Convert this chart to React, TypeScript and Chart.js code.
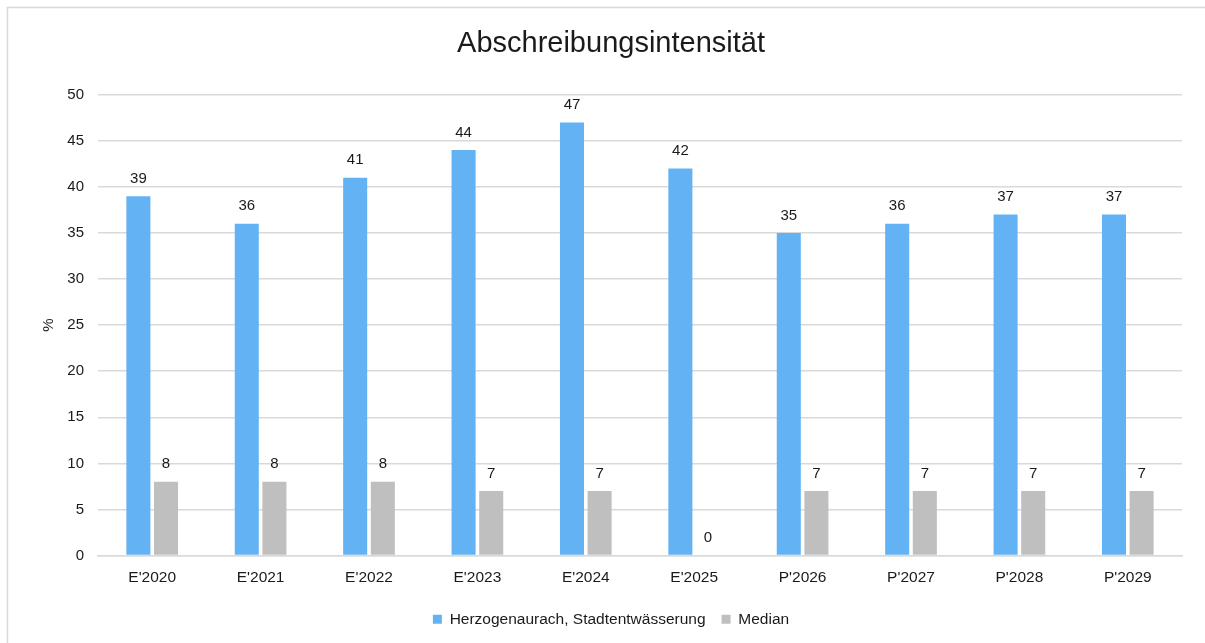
import React, { useEffect, useRef } from "react";
import { Chart, registerables } from "chart.js";

Chart.register(...registerables);

const categories = ["E'2020", "E'2021", "E'2022", "E'2023", "E'2024", "E'2025", "P'2026", "P'2027", "P'2028", "P'2029"];
const herzogenaurach = [39, 36, 41, 44, 47, 42, 35, 36, 37, 37];
const median = [8, 8, 8, 7, 7, 0, 7, 7, 7, 7];
const seriesNames = ["Herzogenaurach, Stadtentwässerung", "Median"];
const chartTitle = "Abschreibungsintensität";
const yTitle = "%";

const FONT = "'Liberation Sans', Arial, sans-serif";
const TEXT = "#1a1a1a";

const framePlugin = {
  id: "frame",
  beforeDraw(chart: any) {
    const ctx = chart.ctx;
    ctx.save();
    ctx.fillStyle = "#ffffff";
    ctx.fillRect(0, 0, chart.width, chart.height);
    ctx.strokeStyle = "#d9d9d9";
    ctx.lineWidth = 1.5;
    ctx.strokeRect(7.5, 7.5, chart.width + 20, chart.height + 20);
    ctx.restore();
  },
};

const labelPlugin = {
  id: "valueLabels",
  afterDatasetsDraw(chart: any) {
    const ctx = chart.ctx;
    ctx.save();
    ctx.font = `15px ${FONT}`;
    ctx.fillStyle = TEXT;
    ctx.textAlign = "center";
    ctx.textBaseline = "bottom";
    chart.data.datasets.forEach((ds: any, i: number) => {
      const meta = chart.getDatasetMeta(i);
      meta.data.forEach((bar: any, j: number) => {
        const v = ds.data[j];
        ctx.fillText(String(v), bar.x, bar.y - 10);
      });
    });
    ctx.restore();
  },
};

export default function App() {
  const ref = useRef<HTMLCanvasElement>(null);
  useEffect(() => {
    if (!ref.current) return;
    const chart = new Chart(ref.current, {
      type: "bar",
      data: {
        labels: categories,
        datasets: [
          { label: seriesNames[0], data: herzogenaurach, backgroundColor: "#63b3f4", borderWidth: 0 },
          { label: seriesNames[1], data: median, backgroundColor: "#bfbfbf", borderWidth: 0 },
        ],
      },
      options: {
        animation: false,
        responsive: false,
        maintainAspectRatio: false,
        layout: { padding: { left: 40, right: 23, top: 0, bottom: 6 } },
        datasets: { bar: { categoryPercentage: 0.51, barPercentage: 0.87 } },
        plugins: {
          title: {
            display: true,
            text: chartTitle,
            color: TEXT,
            font: { family: FONT, size: 29, weight: "normal" },
            padding: { top: 27, bottom: 33 },
          },
          legend: {
            position: "bottom",
            labels: {
              color: TEXT,
              font: { family: FONT, size: 15.5 },
              boxWidth: 9,
              boxHeight: 9,
              padding: 16,
            },
          },
          tooltip: { enabled: false },
        },
        scales: {
          x: {
            grid: { display: false, drawTicks: false },
            border: { display: true, color: "#d9d9d9", width: 1.5 },
            ticks: { color: TEXT, font: { family: FONT, size: 15.5 }, padding: 13, maxRotation: 0 },
            afterFit: (s: any) => { s.height = 40; },
          },
          y: {
            min: 0,
            max: 50,
            grid: { color: "#d9d9d9", lineWidth: 1.5, drawTicks: false },
            border: { display: false },
            ticks: { stepSize: 5, color: TEXT, font: { family: FONT, size: 15 }, padding: 14 },
            title: { display: true, text: yTitle, color: TEXT, font: { family: FONT, size: 15 }, padding: 0 },
            afterFit: (s: any) => { s.width = 58; },
          },
        },
      },
      plugins: [framePlugin, labelPlugin],
    });
    return () => chart.destroy();
  }, []);
  return (
    <div style={{ position: "fixed", left: 0, top: 0, width: 1205, height: 643 }}>
      <canvas ref={ref} width={1205} height={643} style={{ display: "block" }} />
    </div>
  );
}
